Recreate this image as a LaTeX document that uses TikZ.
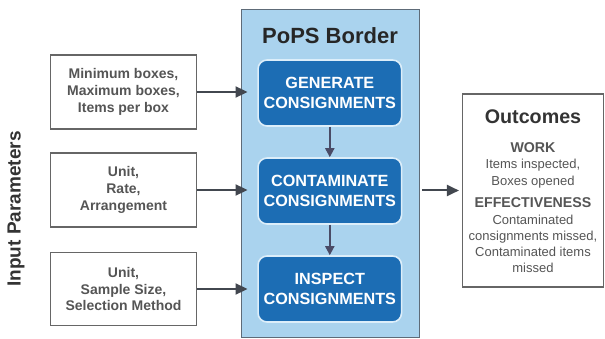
\documentclass[tikz,border=0pt]{standalone}
\usepackage{fontspec}
\setmainfont{Liberation Sans}
\usetikzlibrary{arrows.meta}

\definecolor{panelfill}{HTML}{AAD3EE}
\definecolor{panelline}{HTML}{5E6B78}
\definecolor{stagefill}{HTML}{1C6DB4}
\definecolor{stageline}{HTML}{DCEEFA}
\definecolor{inkgray}{HTML}{555555}
\definecolor{boxline}{HTML}{666666}
\definecolor{arrowgray}{HTML}{42474F}
\definecolor{flowgray}{HTML}{4A4B66}

\tikzset{
  inputbox/.style={draw=boxline, line width=1.1pt, fill=white,
    minimum width=146pt, minimum height=74pt, align=center,
    text=inkgray, font=\fontsize{14}{16.8}\selectfont\bfseries},
  stagebox/.style={draw=stageline, line width=1.6pt, fill=stagefill,
    rounded corners=9pt, minimum width=143.5pt, minimum height=66pt,
    align=center, text=white, font=\fontsize{16.2}{20}\selectfont\bfseries},
  feed/.style={draw=arrowgray, line width=2pt,
    -{Triangle[length=12pt,width=11pt]}},
  flow/.style={draw=flowgray, line width=2pt,
    -{Triangle[length=9pt,width=9pt]}},
  outtext/.style={text=inkgray, align=center, inner sep=1pt,
    font=\fontsize{13}{16.5}\selectfont},
  outhead/.style={text=inkgray, align=center, inner sep=1pt,
    font=\fontsize{14.2}{16}\selectfont\bfseries},
}

\begin{document}
\begin{tikzpicture}[x=1pt,y=-1pt]
  \useasboundingbox (0,0) rectangle (605,339);

  % PoPS Border panel
  \node[draw=panelline, line width=0.9pt, fill=panelfill,
        minimum width=178pt, minimum height=328pt, inner sep=0pt]
        (panel) at (330,173) {};
  \node[font=\fontsize{22}{24}\selectfont\bfseries, text=black!85]
        (title) at (330,36) {PoPS Border};

  % simulation stages
  \node[stagebox] (gen) at (329.8,93) {GENERATE\\CONSIGNMENTS};
  \node[stagebox] (cont) at (329.8,191) {CONTAMINATE\\CONSIGNMENTS};
  \node[stagebox] (insp) at (329.8,289) {INSPECT\\CONSIGNMENTS};

  \draw[flow] (gen.south) -- (cont.north);
  \draw[flow] (cont.south) -- (insp.north);

  % input parameter boxes
  \node[inputbox] (inA) at (123.5,92) {Minimum boxes,\\Maximum boxes,\\Items per box};
  \node[inputbox] (inB) at (123.5,190) {Unit,\\Rate,\\Arrangement};
  \node[inputbox, minimum height=73pt] (inC) at (123.5,289) {Unit,\\Sample Size,\\Selection Method};

  \node[rotate=90, font=\fontsize{19}{22}\selectfont\bfseries, text=black!80]
        (inlabel) at (16,209) {Input Parameters};

  \draw[feed, shorten >=-7pt] (inA.east) -- (inA.east -| panel.west);
  \draw[feed, shorten >=-7pt] (inB.east) -- (inB.east -| panel.west);
  \draw[feed, shorten >=-7pt] (inC.east) -- (inC.east -| panel.west);

  % outcomes
  \node[draw=boxline, line width=1.1pt, fill=white,
        minimum width=141pt, minimum height=193pt, inner sep=0pt]
        (out) at (533,190.5) {};
  \node[font=\fontsize{19.7}{22}\selectfont\bfseries, text=black!80]
        (outtitle) at (533,117) {Outcomes};
  \node[outhead] (work) at (533,148) {WORK};
  \node[outtext] (worklist) at (533,173.5) {Items inspected,\\Boxes opened};
  \node[outhead] (eff) at (533,203) {EFFECTIVENESS};
  \node[outtext, font=\fontsize{13}{16}\selectfont] (efflist) at (533,244) {Contaminated\\consignments missed,\\Contaminated items\\missed};

  \draw[feed, shorten <=3pt, shorten >=3pt] (panel.east |- out.west) -- (out.west);
\end{tikzpicture}
\end{document}
